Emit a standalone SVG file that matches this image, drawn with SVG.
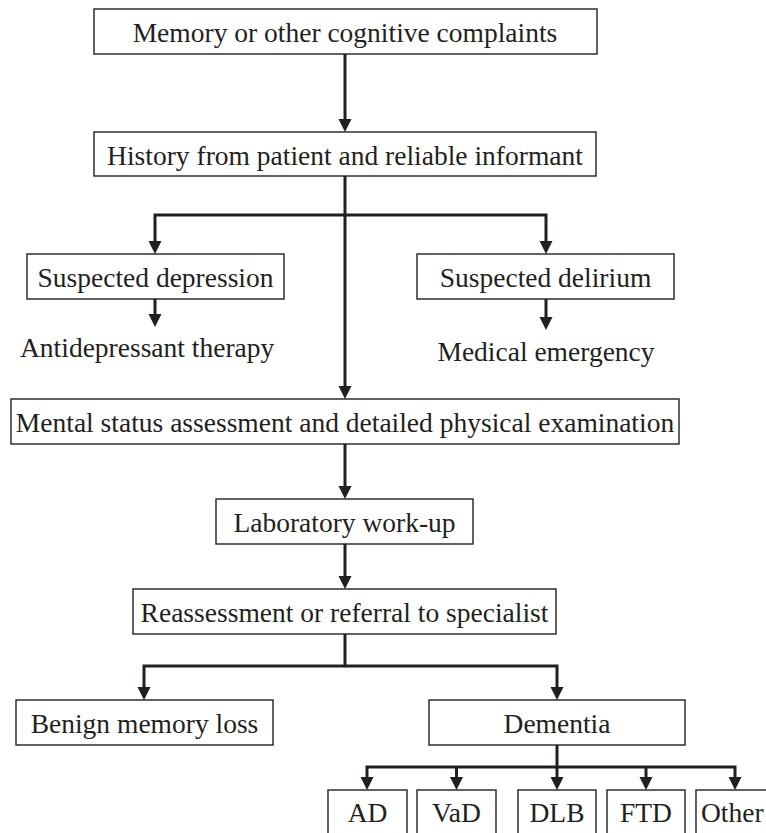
<svg xmlns="http://www.w3.org/2000/svg" width="766" height="833" viewBox="0 0 766 833">
<style>
  .box { fill: #ffffff; stroke: #231f20; stroke-width: 1.4; }
  .t { font-family: "Liberation Serif", "Times New Roman", serif; font-size: 27.5px; fill: #231f20; text-anchor: middle; }
  .ts { font-family: "Liberation Serif", "Times New Roman", serif; font-size: 27.5px; fill: #231f20; text-anchor: start; }
  .c { fill: none; stroke: #231f20; stroke-width: 3; marker-end: url(#ah); }
  .cn { fill: none; stroke: #231f20; stroke-width: 3; }
</style>
<defs>
  <marker id="ah" markerUnits="userSpaceOnUse" markerWidth="14" markerHeight="14" viewBox="0 0 14 14" refX="5" refY="7" orient="auto">
    <path d="M0,0.5 L13,7 L0,13.5 z" fill="#231f20"/>
  </marker>
</defs>
<rect width="766" height="833" fill="#ffffff"/>
<g id="connectors">
  <path class="c" d="M345,54 V124"/>
  <path class="c" d="M345,176 V391"/>
  <path class="c" d="M345,215 H155 V246"/>
  <path class="c" d="M345,215 H546 V246"/>
  <path class="c" d="M155,299 V319"/>
  <path class="c" d="M546,299 V322"/>
  <path class="c" d="M345,444 V491"/>
  <path class="c" d="M345,544 V581"/>
  <path class="c" d="M345,634 V666 H144 V692"/>
  <path class="c" d="M345,666 H557 V692"/>
  <path class="c" d="M557,745 V767 H367 V782"/>
  <path class="c" d="M557,767 H735 V782"/>
  <path class="c" d="M456.5,767 V782"/>
  <path class="c" d="M557,767 V782"/>
  <path class="c" d="M646,767 V782"/>
</g>
<g id="n1"><rect class="box" x="94" y="9" width="503" height="45"/><text class="t" x="345" y="42">Memory or other cognitive complaints</text></g>
<g id="n2"><rect class="box" x="94" y="132" width="502" height="44"/><text class="t" x="345" y="165">History from patient and reliable informant</text></g>
<g id="n3"><rect class="box" x="27" y="254" width="257" height="45"/><text class="t" x="155.5" y="287">Suspected depression</text></g>
<g id="n4"><text class="ts" x="20" y="357">Antidepressant therapy</text></g>
<g id="n5"><rect class="box" x="417" y="254" width="257" height="45"/><text class="t" x="545.5" y="287">Suspected delirium</text></g>
<g id="n6"><text class="t" x="546" y="361">Medical emergency</text></g>
<g id="n7"><rect class="box" x="11" y="399" width="668" height="45"/><text class="t" x="345" y="432">Mental status assessment and detailed physical examination</text></g>
<g id="n8"><rect class="box" x="216" y="499" width="257" height="45"/><text class="t" x="344.5" y="532">Laboratory work-up</text></g>
<g id="n9"><rect class="box" x="133" y="589" width="423" height="45"/><text class="t" x="344.5" y="622">Reassessment or referral to specialist</text></g>
<g id="n10"><rect class="box" x="16" y="700" width="257" height="45"/><text class="t" x="144.5" y="733">Benign memory loss</text></g>
<g id="n11"><rect class="box" x="429" y="700" width="256" height="45"/><text class="t" x="557" y="733">Dementia</text></g>
<g id="n12"><rect class="box" x="328" y="790" width="79" height="60"/><text class="t" x="367.5" y="822">AD</text></g>
<g id="n13"><rect class="box" x="417" y="790" width="79" height="60"/><text class="t" x="456.5" y="822">VaD</text></g>
<g id="n14"><rect class="box" x="518" y="790" width="78" height="60"/><text class="t" x="557" y="822">DLB</text></g>
<g id="n15"><rect class="box" x="607" y="790" width="78" height="60"/><text class="t" x="646" y="822">FTD</text></g>
<g id="n16"><rect class="box" x="696" y="790" width="80" height="60"/><text class="ts" x="701" y="822">Other</text></g>
</svg>
